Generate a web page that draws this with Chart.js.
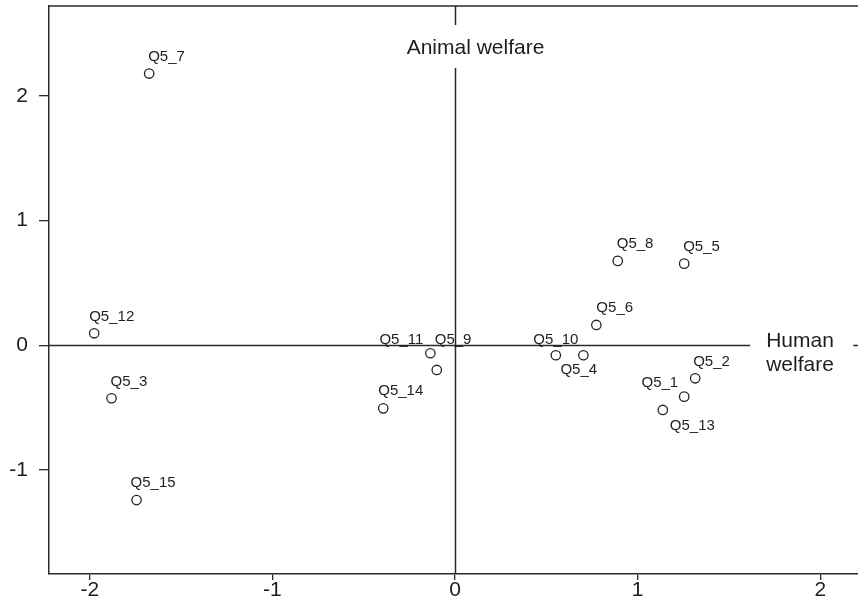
<!DOCTYPE html>
<html>
<head>
<meta charset="utf-8">
<script src="https://cdn.jsdelivr.net/npm/chart.js@4/dist/chart.umd.min.js"></script>
<style>
  html, body { margin: 0; padding: 0; background: #fff; overflow: hidden; }
  #wrap { width: 858px; height: 603px; overflow: hidden; position: relative; }
  canvas { display: block; }
</style>
</head>
<body>
<div id="wrap"><canvas id="c" width="900" height="603"></canvas></div>
<script>
// Item names and their coordinates on the two welfare dimensions
const items = ['Q5_1','Q5_2','Q5_3','Q5_4','Q5_5','Q5_6','Q5_7','Q5_8',
               'Q5_9','Q5_10','Q5_11','Q5_12','Q5_13','Q5_14','Q5_15'];
const humanWelfare  = [1.255, 1.315, -1.881, 0.703, 1.255, 0.774, -1.675, 0.891,
                       -0.100, 0.552, -0.135, -1.976, 1.138, -0.393, -1.744];
const animalWelfare = [-0.412, -0.265, -0.425, -0.080, 0.655, 0.163, 2.180, 0.677,
                       -0.198, -0.080, -0.064, 0.096, -0.519, -0.506, -1.242];
const xTicks = [-2, -1, 0, 1, 2];
const yTicks = [-1, 0, 1, 2];
const xAxisName = ['Human', 'welfare'];
const yAxisName = 'Animal welfare';

// Label nudges in pixels: [dx, dy, align]
const labelNudge = {
  'Q5_1':  [-6, -14, 'right'],
  'Q5_2':  [-2, -16, 'left'],
  'Q5_3':  [-1, -16, 'left'],
  'Q5_4':  [-23, 15, 'left'],
  'Q5_5':  [-1, -17, 'left'],
  'Q5_6':  [0, -17, 'left'],
  'Q5_7':  [-1, -17, 'left'],
  'Q5_8':  [-1, -17, 'left'],
  'Q5_9':  [-2, -30, 'left'],
  'Q5_10': [0, -15, 'center'],
  'Q5_11': [-7, -13, 'right'],
  'Q5_12': [-5, -16, 'left'],
  'Q5_13': [7, 16, 'left'],
  'Q5_14': [-5, -17, 'left'],
  'Q5_15': [-6, -17, 'left']
};

const FONT = '"Liberation Sans", Arial, Helvetica, sans-serif';
const INK = '#1e1e1e';
const PLOT_TOP = 6;

const points = items.map((n, i) => ({ x: humanWelfare[i], y: animalWelfare[i], name: n }));

// Frame, zero axes and the axis names drawn inside the plot
const axesPlugin = {
  id: 'axesPlugin',
  beforeDatasetsDraw(chart) {
    const { ctx, chartArea: a, scales: { x, y } } = chart;
    ctx.save();
    ctx.strokeStyle = '#2a2a2a';
    ctx.lineWidth = 1.5;
    // top frame line
    ctx.beginPath();
    ctx.moveTo(a.left, a.top);
    ctx.lineTo(a.right, a.top);
    ctx.stroke();
    // zero lines
    const x0 = Math.round(x.getPixelForValue(0)) + 0.5;
    const y0 = Math.round(y.getPixelForValue(0)) + 0.5;
    ctx.beginPath();
    ctx.moveTo(x0, a.top); ctx.lineTo(x0, a.bottom);
    ctx.moveTo(a.left, y0); ctx.lineTo(a.right, y0);
    ctx.stroke();

    ctx.font = '21px ' + FONT;
    ctx.textBaseline = 'middle';
    // vertical axis name, centred on the zero line
    const tw = ctx.measureText(yAxisName).width;
    const cx = x0 + 20;
    ctx.fillStyle = '#fff';
    ctx.fillRect(cx - tw / 2 - 9, a.top + 19, tw + 18, 43);
    ctx.fillStyle = INK;
    ctx.textAlign = 'center';
    ctx.fillText(yAxisName, cx, a.top + 42);

    // horizontal axis name, two lines at the right end of the zero line
    const hx = x.getPixelForValue(1.704);
    ctx.fillStyle = '#fff';
    ctx.fillRect(hx - 16, y0 - 16, 103, 44);
    ctx.fillStyle = INK;
    ctx.textAlign = 'left';
    ctx.fillText(xAxisName[0], hx, y0 - 4);
    ctx.fillText(xAxisName[1], hx, y0 + 20);
    ctx.restore();
  },
  afterDatasetsDraw(chart) {
    const { ctx } = chart;
    const meta = chart.getDatasetMeta(0);
    ctx.save();
    ctx.font = '15px ' + FONT;
    ctx.fillStyle = INK;
    ctx.textBaseline = 'middle';
    meta.data.forEach((el, i) => {
      const name = points[i].name;
      const [dx, dy, align] = labelNudge[name];
      ctx.textAlign = align;
      ctx.fillText(name, el.x + dx, el.y + dy);
    });
    ctx.restore();
  }
};

// Keeps the plot frame top where it belongs, whatever space the layout reserved
const topFix = {
  id: 'topFix',
  afterLayout(chart) {
    const off = chart.chartArea.top - PLOT_TOP;
    if (Math.abs(off) > 0.5 && !chart.$topFixed) {
      chart.$topFixed = true;
      chart.options.layout.padding.top -= off;
      chart.update('none');
    }
  }
};

new Chart(document.getElementById('c'), {
  type: 'scatter',
  data: {
    datasets: [{
      data: points,
      pointStyle: 'circle',
      pointRadius: 4.7,
      pointHoverRadius: 4.7,
      pointBorderWidth: 1.3,
      borderColor: '#222',
      backgroundColor: 'rgba(255,255,255,0)'
    }]
  },
  plugins: [axesPlugin, topFix],
  options: {
    responsive: false,
    animation: false,
    devicePixelRatio: 1,
    layout: { autoPadding: false, padding: { top: PLOT_TOP, right: 10, left: 0, bottom: 0 } },
    plugins: { legend: { display: false }, tooltip: { enabled: false } },
    scales: {
      x: {
        type: 'linear',
        min: -2.2235,
        max: 2.382,
        afterFit(s) { s.height = 29; s.paddingLeft = 0; s.paddingRight = 0; },
        afterBuildTicks(s) { s.ticks = xTicks.map(v => ({ value: v })); },
        grid: { drawOnChartArea: false, drawTicks: true, tickLength: 6, color: '#2a2a2a', lineWidth: 1.3 },
        border: { display: true, color: '#2a2a2a', width: 1.5 },
        ticks: { color: INK, font: { family: FONT, size: 21 }, padding: -2, maxRotation: 0 }
      },
      y: {
        type: 'linear',
        min: -1.835,
        max: 2.722,
        afterFit(s) { s.width = 49; s.paddingTop = 0; s.paddingBottom = 0; },
        afterBuildTicks(s) { s.ticks = yTicks.map(v => ({ value: v })); },
        grid: { drawOnChartArea: false, drawTicks: true, tickLength: 10, color: '#2a2a2a', lineWidth: 1.3 },
        border: { display: true, color: '#2a2a2a', width: 1.5 },
        ticks: { color: INK, font: { family: FONT, size: 21 }, padding: 11 }
      }
    }
  }
});
</script>
</body>
</html>
